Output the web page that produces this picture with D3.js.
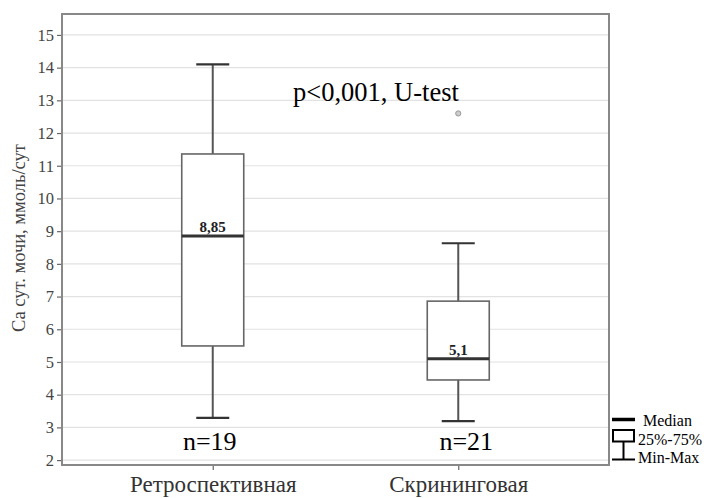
<!DOCTYPE html>
<html>
<head>
<meta charset="utf-8">
<script src="https://cdn.jsdelivr.net/npm/d3@7"></script>
<style>
  body { margin: 0; background: #fff; }
  svg { display: block; }
  text { font-family: "Liberation Serif", "Times New Roman", serif; }
</style>
</head>
<body>
<svg id="chart" width="715" height="498"></svg>
<script>
// Daily urinary calcium by cohort (mmol/day)
const groups   = ["Ретроспективная", "Скрининговая"];
const mins     = [3.29, 3.19];
const q1s      = [5.49, 4.45];
const medians  = [8.85, 5.1];
const q3s      = [11.36, 6.86];
const maxs     = [14.10, 8.63];
const outliers = [[], [12.6]];
const counts   = [19, 21];
const medianLabels = ["8,85", "5,1"];
const yTicks   = [2, 3, 4, 5, 6, 7, 8, 9, 10, 11, 12, 13, 14, 15];

const serif = "'Liberation Serif', 'Times New Roman', serif";
const svg = d3.select("#chart");
const plot = { left: 62, top: 14, right: 609, bottom: 465 };

const y = d3.scaleLinear().domain([1.85, 15.64]).range([plot.bottom, plot.top]);
const x = d3.scalePoint().domain(groups).range([plot.left, plot.right]).padding(0.614);

// horizontal grid
svg.append("g")
  .selectAll("line")
  .data(yTicks)
  .join("line")
  .attr("x1", plot.left).attr("x2", plot.right)
  .attr("y1", d => y(d)).attr("y2", d => y(d))
  .attr("stroke", "#e2e2e2").attr("stroke-width", 1.2);

// y axis
const yAxis = svg.append("g")
  .attr("transform", `translate(${plot.left},0)`)
  .call(d3.axisLeft(y).tickValues(yTicks).tickSize(5).tickPadding(3))
  .attr("font-family", serif)
  .attr("font-size", 16.5);
yAxis.select(".domain").remove();
yAxis.selectAll(".tick line").attr("stroke", "#666").attr("stroke-width", 1.2);
yAxis.selectAll(".tick text").attr("fill", "#444");

// x axis
const xAxis = svg.append("g")
  .attr("transform", `translate(0,${plot.bottom})`)
  .call(d3.axisBottom(x).tickSize(5))
  .attr("font-family", serif)
  .attr("font-size", 23);
xAxis.select(".domain").remove();
xAxis.selectAll(".tick line").attr("stroke", "#666").attr("stroke-width", 1.2);
xAxis.selectAll(".tick text")
  .attr("fill", "#333")
  .attr("y", 27)
  .attr("dy", 0);

// frame
svg.append("rect")
  .attr("x", plot.left).attr("y", plot.top)
  .attr("width", plot.right - plot.left).attr("height", plot.bottom - plot.top)
  .attr("fill", "none").attr("stroke", "#888").attr("stroke-width", 2);

// y axis title
svg.append("text")
  .attr("transform", `translate(25,238) rotate(-90)`)
  .attr("text-anchor", "middle")
  .attr("fill", "#444")
  .style("font-size", "18.5px")
  .text("Ca сут. мочи, ммоль/сут");

// box plots
const boxW = 62, capW = 33;
const boxes = svg.append("g")
  .selectAll("g")
  .data(groups.map((g, i) => ({ g, i })))
  .join("g");

boxes.append("line")
  .attr("x1", d => x(d.g)).attr("x2", d => x(d.g))
  .attr("y1", d => y(maxs[d.i])).attr("y2", d => y(q3s[d.i]))
  .attr("stroke", "#555").attr("stroke-width", 2);
boxes.append("line")
  .attr("x1", d => x(d.g)).attr("x2", d => x(d.g))
  .attr("y1", d => y(q1s[d.i])).attr("y2", d => y(mins[d.i]))
  .attr("stroke", "#555").attr("stroke-width", 2);
boxes.append("line")
  .attr("x1", d => x(d.g) - capW / 2).attr("x2", d => x(d.g) + capW / 2)
  .attr("y1", d => y(maxs[d.i])).attr("y2", d => y(maxs[d.i]))
  .attr("stroke", "#333").attr("stroke-width", 2.2);
boxes.append("line")
  .attr("x1", d => x(d.g) - capW / 2).attr("x2", d => x(d.g) + capW / 2)
  .attr("y1", d => y(mins[d.i])).attr("y2", d => y(mins[d.i]))
  .attr("stroke", "#333").attr("stroke-width", 2.2);
boxes.append("rect")
  .attr("x", d => x(d.g) - boxW / 2)
  .attr("y", d => y(q3s[d.i]))
  .attr("width", boxW)
  .attr("height", d => y(q1s[d.i]) - y(q3s[d.i]))
  .attr("fill", "#fff").attr("stroke", "#666").attr("stroke-width", 1.6);
boxes.append("line")
  .attr("x1", d => x(d.g) - boxW / 2).attr("x2", d => x(d.g) + boxW / 2)
  .attr("y1", d => y(medians[d.i])).attr("y2", d => y(medians[d.i]))
  .attr("stroke", "#333").attr("stroke-width", 3);
boxes.append("text")
  .attr("x", d => x(d.g))
  .attr("y", d => y(medians[d.i]) - 4)
  .attr("text-anchor", "middle")
  .attr("fill", "#222")
  .style("font-size", "15px").style("font-weight", "bold")
  .text(d => medianLabels[d.i]);

// outliers
boxes.selectAll("circle")
  .data(d => outliers[d.i].map(v => ({ v, g: d.g })))
  .join("circle")
  .attr("cx", d => x(d.g)).attr("cy", d => y(d.v))
  .attr("r", 2.6)
  .attr("fill", "#ccc").attr("stroke", "#999").attr("stroke-width", 1);

// sample sizes
const nOffsets = [-3, 8];
svg.append("g")
  .selectAll("text")
  .data(groups.map((g, i) => ({ g, i })))
  .join("text")
  .attr("x", d => x(d.g) + nOffsets[d.i])
  .attr("y", 450)
  .attr("text-anchor", "middle")
  .attr("fill", "#000")
  .style("font-size", "26px")
  .text(d => "n=" + counts[d.i]);

// test annotation
svg.append("text")
  .attr("x", 293).attr("y", 101)
  .attr("fill", "#000")
  .style("font-size", "26.5px")
  .text("p<0,001, U-test");

// legend
const lg = svg.append("g");
lg.append("line").attr("x1", 612).attr("x2", 635).attr("y1", 419.5).attr("y2", 419.5)
  .attr("stroke", "#000").attr("stroke-width", 3.5);
lg.append("rect").attr("x", 613).attr("y", 430).attr("width", 21).attr("height", 11.5)
  .attr("fill", "#fff").attr("stroke", "#000").attr("stroke-width", 2);
lg.append("line").attr("x1", 623.5).attr("x2", 623.5).attr("y1", 441.5).attr("y2", 459.5)
  .attr("stroke", "#000").attr("stroke-width", 2);
lg.append("line").attr("x1", 612).attr("x2", 635).attr("y1", 459.5).attr("y2", 459.5)
  .attr("stroke", "#000").attr("stroke-width", 2);
lg.append("text").attr("x", 643).attr("y", 426).style("font-size", "16px").text("Median");
lg.append("text").attr("x", 638).attr("y", 444.5).style("font-size", "16px").text("25%-75%");
lg.append("text").attr("x", 638).attr("y", 463).style("font-size", "16px").text("Min-Max");
</script>
</body>
</html>
